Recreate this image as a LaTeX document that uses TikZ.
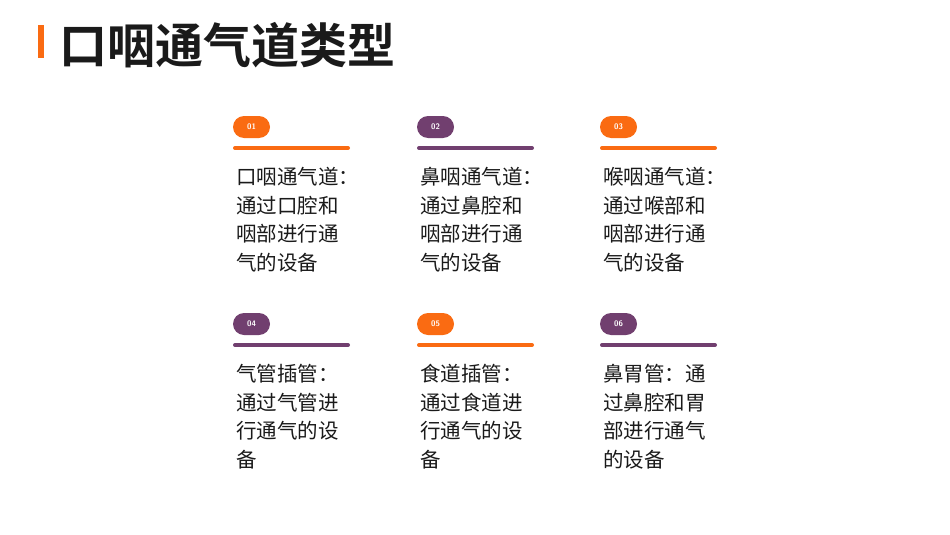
\documentclass[tikz,border=0pt]{standalone}
\usepackage{fontspec}
\newfontfamily\cjk{Noto Sans CJK SC}
\newfontfamily\cjkb{Noto Sans CJK SC Bold}
\definecolor{org}{HTML}{FA6B12}
\definecolor{pur}{HTML}{713F6F}
\definecolor{txt}{HTML}{1A1A1A}
\begin{document}
\begin{tikzpicture}[x=1pt,y=-1pt,
  pill/.style={fill=#1,rounded corners=11pt,minimum width=37pt,minimum height=22pt,inner sep=0pt,text=white,font=\sffamily\bfseries\fontsize{8}{8}\selectfont},
  bar/.style={draw=#1,line width=4pt,line cap=round},
  body/.style={anchor=north west,align=left,inner sep=0pt,text=txt,font=\cjk\fontsize{20.5}{28.5}\selectfont}]
\useasboundingbox (0,0) rectangle (950,535);
\fill[org] (38,25) rectangle (44,58);
\node[anchor=west,inner sep=0pt,text=txt,font=\cjkb\fontsize{48}{48}\selectfont] (title) at (59,45) {口咽通气道类型};
\foreach \n/\x/\y/\c/\t in {
 1/233/127/org/{口咽通气道：\\通过口腔和\\咽部进行通\\气的设备},
 2/417/127/pur/{鼻咽通气道：\\通过鼻腔和\\咽部进行通\\气的设备},
 3/600/127/org/{喉咽通气道：\\通过喉部和\\咽部进行通\\气的设备},
 4/233/324/pur/{气管插管：\\通过气管进\\行通气的设\\备},
 5/417/324/org/{食道插管：\\通过食道进\\行通气的设\\备},
 6/600/324/pur/{鼻胃管：通\\过鼻腔和胃\\部进行通气\\的设备}}{
  \node[pill=\c] (p\n) at (\x+18.5,\y) {0\n};
  \coordinate (a\n) at (\x+2,\y+21);
  \coordinate (b\n) at (\x+115,\y+21);
  \draw[bar=\c] (a\n) -- (b\n);
  \node[body] (t\n) at (\x+3,\y+40) {\t};
}
\end{tikzpicture}
\end{document}
